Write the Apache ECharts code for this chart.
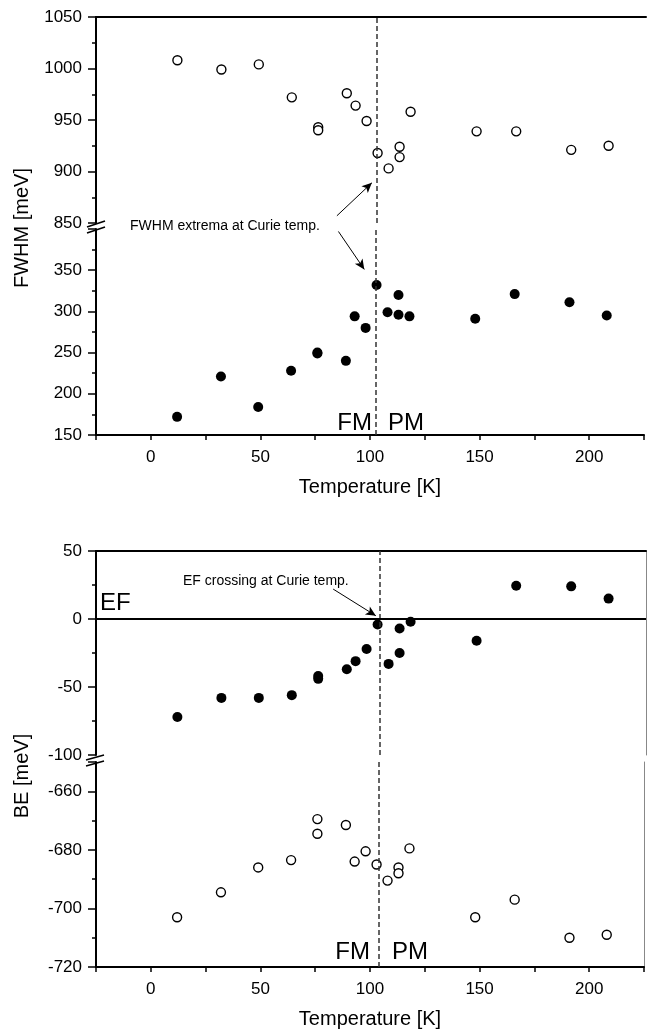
<!DOCTYPE html>
<html>
<head>
<meta charset="utf-8">
<script src="https://cdn.jsdelivr.net/npm/echarts@6/dist/echarts.min.js"></script>
<style>
html, body { margin: 0; padding: 0; background: #fff; }
#main { width: 647px; height: 1032px; }
</style>
</head>
<body>
<div id="main"></div>
<script>
// temperatures [K] (shared by all four series)
var temps = [12, 32, 49, 64, 76, 76, 89, 93, 98, 103, 108, 113, 113, 118, 148, 166, 191, 208];
// FWHM [meV]
var fwhmOpen   = [1008, 999, 1004, 972, 943, 940, 976, 964, 949, 918, 903, 924, 914, 958, 939, 939, 921, 925];
var fwhmFilled = [172, 221, 184, 228, 250, 249, 240, 294, 280, 332, 299, 320, 296, 294, 291, 321, 311, 295];
// BE [meV]
var beFilled = [-72, -58, -58, -56, -42, -44, -37, -31, -22, -4, -33, -7, -25, -2, -16, 24.5, 24, 15];
var beOpen   = [-703, -694.5, -686, -683.5, -669.5, -674.5, -671.5, -684, -680.5, -685, -690.5, -686, -688, -679.5, -703, -697, -710, -709];
// curie temperature markers
var curieTop = 102.5;
var curieBottom = 104;

var FONT = '"Liberation Sans", Arial, sans-serif';
var chart = echarts.init(document.getElementById('main'));

function pairs(ys) {
  return temps.map(function (t, i) { return [t, ys[i]]; });
}

function xAxisCfg(gi, isBottom) {
  return {
    type: 'value', gridIndex: gi, min: -25, max: 225, interval: 25,
    position: isBottom ? 'bottom' : 'top',
    axisLine: { show: true, onZero: false, lineStyle: { color: '#000', width: 2 } },
    axisTick: { show: isBottom, length: 5, lineStyle: { color: '#000', width: 1.5 } },
    axisLabel: {
      show: isBottom, color: '#000', fontSize: 17, fontFamily: FONT, margin: 14,
      formatter: function (v) { return (v % 50 === 0 && v >= 0 && v <= 200) ? String(v) : ''; }
    },
    splitLine: { show: false },
    name: isBottom ? 'Temperature [K]' : '',
    nameLocation: 'middle', nameGap: 42,
    nameTextStyle: { color: '#000', fontSize: 20, fontFamily: FONT, verticalAlign: 'top' }
  };
}

function yAxisCfg(gi, min, max, interval, hideMax) {
  return {
    type: 'value', gridIndex: gi, min: min, max: max, interval: interval,
    axisLine: { show: true, onZero: false, lineStyle: { color: '#000', width: 2 } },
    axisTick: { show: true, length: 8, lineStyle: { color: '#000', width: 1.5 } },
    minorTick: { show: true, splitNumber: 2, length: 4, lineStyle: { color: '#000', width: 1.5 } },
    splitLine: { show: false },
    axisLabel: {
      color: '#000', fontSize: 17, fontFamily: FONT, margin: 14, showMaxLabel: !hideMax,
      formatter: function (v) { return String(v); }
    }
  };
}

function rightBorder(gi, min, max) {
  return {
    type: 'value', gridIndex: gi, position: 'right', min: min, max: max,
    axisLine: { show: true, onZero: false, lineStyle: { color: '#888', width: 1 } },
    axisTick: { show: false }, axisLabel: { show: false }, splitLine: { show: false }
  };
}

var openStyle = { color: '#fff', borderColor: '#000', borderWidth: 1.4, opacity: 1 };
var filledStyle = { color: '#000', opacity: 1 };
var dashStyle = { color: '#333', type: [5, 3], width: 1.5 };
var arrowStyle = { color: '#000', type: 'solid', width: 1 };

function arrow(x1, y1, x2, y2) {
  return [
    { coord: [x1, y1], symbol: 'none', lineStyle: arrowStyle },
    { coord: [x2, y2], symbol: 'arrow', symbolSize: [7, 10], lineStyle: arrowStyle }
  ];
}

function txt(x, y, s, size, align) {
  return {
    type: 'text', x: x, y: y, silent: true,
    style: { text: s, font: size + 'px ' + FONT, fill: '#000',
      align: align, verticalAlign: 'middle', textAlign: align, textVerticalAlign: 'middle' }
  };
}

function brk(x1, y1, x2, y2) {
  return { type: 'line', silent: true, shape: { x1: x1, y1: y1, x2: x2, y2: y2 },
    style: { stroke: '#000', lineWidth: 1.5 } };
}

var option = {
  animation: false,
  backgroundColor: '#fff',
  grid: [
    { left: 96, width: 550, top: 17, height: 206 },
    { left: 96, width: 550, top: 229, height: 206 },
    { left: 96, width: 550, top: 551, height: 204 },
    { left: 96, width: 550, top: 762, height: 205 }
  ],
  xAxis: [xAxisCfg(0, false), xAxisCfg(1, true), xAxisCfg(2, false), xAxisCfg(3, true)],
  yAxis: [
    yAxisCfg(0, 850, 1050, 50, false),
    yAxisCfg(1, 150, 400, 50, true),
    yAxisCfg(2, -100, 50, 50, false),
    yAxisCfg(3, -720, -650, 20, true),
    rightBorder(2, -100, 50),
    rightBorder(3, -720, -650)
  ],
  series: [
    {
      type: 'scatter', xAxisIndex: 0, yAxisIndex: 0, data: pairs(fwhmOpen),
      symbolSize: 9, itemStyle: openStyle,
      markLine: {
        silent: true, symbol: ['none', 'none'], label: { show: false }, lineStyle: dashStyle,
        data: [{ xAxis: curieTop }, arrow(84.5, 857, 100.4, 889)]
      }
    },
    {
      type: 'scatter', xAxisIndex: 1, yAxisIndex: 1, data: pairs(fwhmFilled),
      symbolSize: 10, itemStyle: filledStyle,
      markLine: {
        silent: true, symbol: ['none', 'none'], label: { show: false }, lineStyle: dashStyle,
        data: [{ xAxis: curieTop }, arrow(85.6, 397, 97.4, 351)]
      }
    },
    {
      type: 'scatter', xAxisIndex: 2, yAxisIndex: 2, data: pairs(beFilled),
      symbolSize: 10, itemStyle: filledStyle,
      markLine: {
        silent: true, symbol: ['none', 'none'], label: { show: false }, lineStyle: dashStyle,
        data: [
          { xAxis: curieBottom },
          { yAxis: 0, lineStyle: { color: '#000', type: 'solid', width: 2 } },
          arrow(82.8, 22, 102.2, 2.4)
        ]
      }
    },
    {
      type: 'scatter', xAxisIndex: 3, yAxisIndex: 3, data: pairs(beOpen),
      symbolSize: 9, itemStyle: openStyle,
      markLine: {
        silent: true, symbol: ['none', 'none'], label: { show: false }, lineStyle: dashStyle,
        data: [{ xAxis: curieBottom }]
      }
    }
  ],
  graphic: [
    // axis breaks
    brk(87, 227, 105, 221), brk(87, 233, 105, 227),
    brk(86, 760, 104, 755), brk(86, 766, 104, 761),
    // axis names
    {
      type: 'text', x: 22, y: 228, rotation: Math.PI / 2, silent: true,
      style: { text: 'FWHM [meV]', font: '20px ' + FONT, fill: '#000',
        align: 'center', verticalAlign: 'middle', textAlign: 'center', textVerticalAlign: 'middle' }
    },
    {
      type: 'text', x: 22, y: 776, rotation: Math.PI / 2, silent: true,
      style: { text: 'BE [meV]', font: '20px ' + FONT, fill: '#000',
        align: 'center', verticalAlign: 'middle', textAlign: 'center', textVerticalAlign: 'middle' }
    },
    // annotations
    txt(130, 226, 'FWHM extrema at Curie temp.', 14, 'left'),
    txt(183, 581, 'EF crossing at Curie temp.', 14, 'left'),
    txt(100, 603, 'EF', 24, 'left'),
    txt(372, 423, 'FM', 24, 'right'),
    txt(388, 423, 'PM', 24, 'left'),
    txt(370, 952, 'FM', 24, 'right'),
    txt(392, 952, 'PM', 24, 'left')
  ]
};

chart.setOption(option);
</script>
</body>
</html>
